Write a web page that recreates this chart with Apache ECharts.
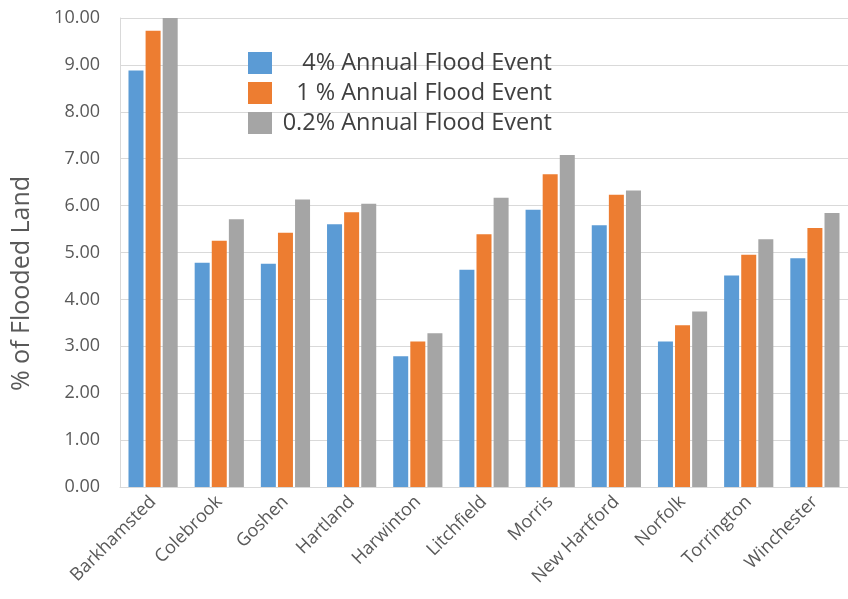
<!DOCTYPE html>
<html>
<head>
<meta charset="utf-8">
<script src="https://cdn.jsdelivr.net/npm/echarts@6/dist/echarts.min.js"></script>
<style>
  html, body { margin: 0; padding: 0; background: #fff; }
  #chart { width: 848px; height: 599px; }
</style>
</head>
<body>
<div id="chart"></div>
<script>
// Towns along the x axis
const towns = ['Barkhamsted', 'Colebrook', 'Goshen', 'Hartland', 'Harwinton', 'Litchfield',
  'Morris', 'New Hartford', 'Norfolk', 'Torrington', 'Winchester'];

// Share of land flooded (%) for each flood frequency
const flood4pct   = [8.88, 4.78, 4.76, 5.60, 2.79, 4.63, 5.91, 5.58, 3.10, 4.51, 4.88];
const flood1pct   = [9.73, 5.25, 5.42, 5.86, 3.10, 5.39, 6.67, 6.23, 3.45, 4.95, 5.52];
const flood02pct  = [10.00, 5.71, 6.13, 6.04, 3.28, 6.17, 7.08, 6.32, 3.74, 5.28, 5.84];

const seriesNames = ['4% Annual Flood Event', '1 % Annual Flood Event', '0.2% Annual Flood Event'];
const yTicks = { min: 0, max: 10, step: 1 };

const colors = ['#5b9bd5', '#ed7d31', '#a5a5a5'];
const fontFamily = '"Open Sans", "Noto Sans", sans-serif';

const chart = echarts.init(document.getElementById('chart'), null, { renderer: 'canvas' });

const makeBar = (name, data, color) => ({
  name: name,
  type: 'bar',
  data: data,
  barWidth: 15,
  barGap: '14%',
  itemStyle: { color: color },
  emphasis: { disabled: true }
});

chart.setOption({
  animation: false,
  textStyle: { fontFamily: fontFamily },
  grid: { left: 120, right: -7, top: 18, bottom: 112, containLabel: false },
  legend: {
    orient: 'vertical',
    left: 243,
    top: 46,
    itemWidth: 24,
    itemHeight: 22,
    itemGap: 6,
    icon: 'rect',
    formatter: name => '{t|' + name + '}',
    textStyle: {
      color: '#404040',
      fontFamily: fontFamily,
      rich: {
        t: { width: 275, height: 22, lineHeight: 22, align: 'right', fontSize: 23.5, color: '#404040', fontFamily: fontFamily }
      }
    },
    data: seriesNames
  },
  xAxis: {
    type: 'category',
    data: towns,
    axisTick: { show: false },
    axisLine: { lineStyle: { color: '#d9d9d9', width: 1 } },
    axisLabel: {
      rotate: 45,
      interval: 0,
      color: '#595959',
      fontSize: 18,
      margin: 12,
      fontFamily: fontFamily
    }
  },
  yAxis: {
    type: 'value',
    min: yTicks.min,
    max: yTicks.max,
    interval: yTicks.step,
    name: '% of Flooded Land',
    nameLocation: 'middle',
    nameGap: 86,
    nameTextStyle: { fontSize: 25, color: '#595959', fontFamily: fontFamily, padding: [0, 62, 0, 0] },
    axisLine: { show: true, lineStyle: { color: '#d9d9d9', width: 1 } },
    axisTick: { show: false },
    axisLabel: {
      formatter: v => v.toFixed(2),
      color: '#595959',
      fontSize: 18,
      margin: 20,
      fontFamily: fontFamily
    },
    splitLine: { lineStyle: { color: '#d9d9d9', width: 1 } }
  },
  series: [
    makeBar(seriesNames[0], flood4pct, colors[0]),
    makeBar(seriesNames[1], flood1pct, colors[1]),
    makeBar(seriesNames[2], flood02pct, colors[2])
  ]
});
</script>
</body>
</html>
